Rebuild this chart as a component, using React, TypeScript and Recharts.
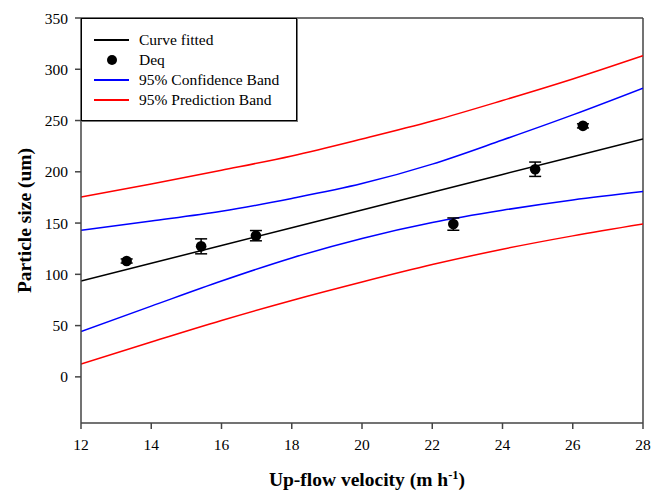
import React from 'react';
import {
  ComposedChart, Line, Scatter, ErrorBar, XAxis, YAxis, ReferenceLine, Legend,
} from 'recharts';

// velocity grid used for the fitted curve and the bands
const velocity = [12, 14, 16, 18, 20, 22, 24, 26, 28];
const fitted = [93.5, 110.8, 128.1, 145.4, 162.8, 180.1, 197.4, 214.7, 232];
const confUpper = [143, 152, 161.5, 174, 188.5, 207.5, 231, 255.5, 281.6];
const confLower = [44.3, 69, 93.5, 116, 135, 150.5, 162.5, 172.5, 180.7];
const predUpper = [175.5, 188, 201.5, 215.5, 232, 249.5, 269.5, 290.5, 313.2];
const predLower = [12.4, 34, 55, 74.5, 92.5, 109.5, 124.5, 137.5, 149.1];

// measured Deq points
const deqVelocity = [13.3, 15.42, 16.98, 22.6, 24.93, 26.29];
const deqSize = [113, 127.3, 137.7, 149, 202.5, 244.8];
const deqError = [2, 7.3, 5, 6, 7, 2];

const xTicks = [12, 14, 16, 18, 20, 22, 24, 26, 28];
const yTicks = [0, 50, 100, 150, 200, 250, 300, 350];

const legendLabels = ['Curve fitted', 'Deq', '95% Confidence Band', '95% Prediction Band'];
const legendColors = ['#000000', '#000000', '#0000ff', '#ff0000'];

const FONT = 'Liberation Serif';
const AXIS = '#444';

const toPoints = (ys: number[]) => velocity.map((x, i) => ({ x, y: ys[i] }));
const deqData = deqVelocity.map((x, i) => ({ x, y: deqSize[i], err: deqError[i] }));

const LegendBox = () => (
  <div style={{
    width: 214, height: 90, border: '1px solid #000', boxShadow: '1px 1px 0 #777',
    background: '#fff', fontFamily: FONT, fontSize: 15.5, color: '#000',
    paddingTop: 11, boxSizing: 'content-box',
  }}>
    {legendLabels.map((name, i) => (
      <div key={name} style={{ display: 'flex', alignItems: 'center', height: 20 }}>
        <div style={{ width: 35, marginLeft: 12, display: 'flex', justifyContent: 'center' }}>
          {name === 'Deq'
            ? <span style={{ width: 10, height: 10, borderRadius: '50%', background: '#000', display: 'inline-block' }} />
            : <span style={{ width: 35, height: 1.5, background: legendColors[i], display: 'inline-block' }} />}
        </div>
        <span style={{ marginLeft: 10, whiteSpace: 'nowrap' }}>{name}</span>
      </div>
    ))}
  </div>
);

const YTitle = ({ viewBox }: any) => {
  const cy = viewBox.y + viewBox.height / 2;
  return (
    <text x={31} y={cy} transform={`rotate(-90 31 ${cy})`} textAnchor="middle"
      fontFamily={FONT} fontSize={19.5} fontWeight="bold" fill="#000">
      Particle size (um)
    </text>
  );
};

const XTitle = ({ viewBox }: any) => {
  const cx = viewBox.x + viewBox.width / 2 + 5;
  return (
    <text x={cx} y={486} textAnchor="middle" fontFamily={FONT} fontSize={19.5} fontWeight="bold" fill="#000">
      Up-flow velocity (m h<tspan dy={-7} fontSize={12.5}>-1</tspan><tspan dy={7}>)</tspan>
    </text>
  );
};

const Dot = (props: any) => <circle cx={props.cx} cy={props.cy} r={5.3} fill="#000" />;

export default function App() {
  return (
    <div style={{ position: 'absolute', left: 0, top: 0 }}>
      <ComposedChart width={654} height={492} margin={{ top: 18, right: 11, left: 0, bottom: 0 }}>
        <XAxis type="number" dataKey="x" domain={[12, 28]} ticks={xTicks} allowDataOverflow
          height={69} tickSize={6} tickMargin={10}
          axisLine={{ stroke: AXIS, strokeWidth: 1.5 }} tickLine={{ stroke: AXIS, strokeWidth: 1.5 }}
          tick={{ fontSize: 15.5, fill: '#000', fontFamily: FONT }}
          label={{ content: <XTitle /> } as any} />
        <YAxis type="number" dataKey="y" domain={[-45, 350]} ticks={yTicks} allowDataOverflow
          width={81} tickSize={6} tickMargin={7}
          axisLine={{ stroke: AXIS, strokeWidth: 1.5 }} tickLine={{ stroke: AXIS, strokeWidth: 1.5 }}
          tick={{ fontSize: 15.5, fill: '#000', fontFamily: FONT }}
          label={{ content: <YTitle /> } as any} />
        <ReferenceLine y={350} stroke={AXIS} strokeWidth={1.5} />
        <ReferenceLine x={28} stroke={AXIS} strokeWidth={1.5} />

        <Line data={toPoints(predUpper)} dataKey="y" type="monotone" stroke="#ff0000" strokeWidth={1.5} dot={false} isAnimationActive={false} legendType="none" />
        <Line data={toPoints(predLower)} dataKey="y" type="monotone" stroke="#ff0000" strokeWidth={1.5} dot={false} isAnimationActive={false} legendType="none" />
        <Line data={toPoints(confUpper)} dataKey="y" type="monotone" stroke="#0000ff" strokeWidth={1.5} dot={false} isAnimationActive={false} legendType="none" />
        <Line data={toPoints(confLower)} dataKey="y" type="monotone" stroke="#0000ff" strokeWidth={1.5} dot={false} isAnimationActive={false} legendType="none" />
        <Line data={toPoints(fitted)} dataKey="y" type="linear" stroke="#000" strokeWidth={1.5} dot={false} isAnimationActive={false} legendType="none" />

        <Scatter data={deqData} dataKey="y" shape={<Dot />} isAnimationActive={false} legendType="none">
          <ErrorBar dataKey="err" direction="y" width={6} stroke="#000" strokeWidth={1.5} isAnimationActive={false} />
        </Scatter>

        <Legend layout="vertical" align="center" verticalAlign="middle" content={<LegendBox />}
          wrapperStyle={{ position: 'absolute', left: 81, top: 18, width: 216, height: 102 }} />
      </ComposedChart>
    </div>
  );
}
